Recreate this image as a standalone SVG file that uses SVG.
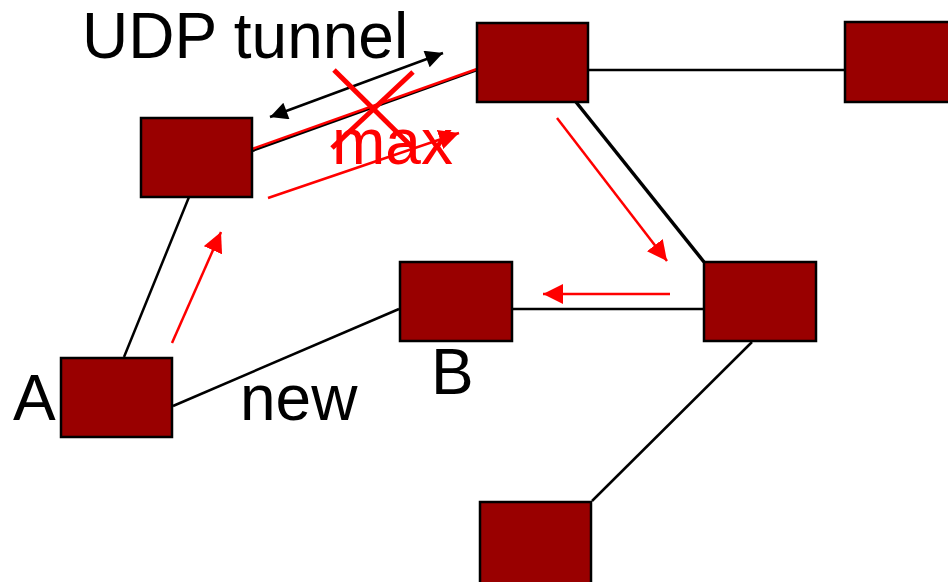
<svg xmlns="http://www.w3.org/2000/svg" width="948" height="582" viewBox="0 0 948 582">
  <style>
    .node { fill: #990000; stroke: #000; stroke-width: 2.5; }
    .link { stroke: #000; stroke-width: 2.5; fill: none; }
    .flow { stroke: #ff0000; stroke-width: 2.5; fill: none; }
    .lbl { font-family: "Liberation Sans", Arial, sans-serif; font-size: 64px; fill: #000; }
    .red { fill: #ff0000; }
  </style>
  <defs>
    <marker id="redHead" viewBox="0 0 10 10" refX="10" refY="5" markerWidth="8" markerHeight="8" markerUnits="strokeWidth" orient="auto">
      <path d="M0,0 L10,5 L0,10 z" fill="#ff0000"/>
    </marker>
    <marker id="blackHead" viewBox="0 0 10 10" refX="10" refY="5" markerWidth="8" markerHeight="7" markerUnits="strokeWidth" orient="auto-start-reverse">
      <path d="M0,0 L10,5 L0,10 z" fill="#000"/>
    </marker>
  </defs>

  <g id="connectors">
    <line class="link" x1="588" y1="70" x2="845" y2="70"/>
    <line class="link" x1="576" y1="102" x2="704" y2="262" style="stroke-width:3.5"/>
    <line class="link" x1="513" y1="309" x2="704" y2="309"/>
    <line class="link" x1="173" y1="406" x2="399" y2="309"/>
    <line class="link" x1="124" y1="357" x2="189" y2="197"/>
    <line class="link" x1="592" y1="501" x2="752" y2="342"/>
    <line class="link" x1="252" y1="151" x2="477" y2="70"/>
    <line class="flow" x1="252" y1="149" x2="477" y2="69"/>
  </g>

  <g id="node-top"><rect class="node" x="477" y="23" width="111" height="79"/></g>
  <g id="node-right"><rect class="node" x="845" y="22" width="110" height="80"/></g>
  <g id="node-left"><rect class="node" x="141" y="118" width="111" height="79"/></g>
  <g id="node-a"><rect class="node" x="61" y="358" width="111" height="79"/></g>
  <g id="node-b"><rect class="node" x="400" y="262" width="112" height="79"/></g>
  <g id="node-mid"><rect class="node" x="704" y="262" width="112" height="79"/></g>
  <g id="node-bottom"><rect class="node" x="480" y="502" width="111" height="82"/></g>

  <g id="flows">
    <line stroke="#000" stroke-width="2.5" x1="270" y1="117" x2="443" y2="53" marker-start="url(#blackHead)" marker-end="url(#blackHead)"/>
    <line class="flow" x1="172" y1="343" x2="221" y2="232" marker-end="url(#redHead)"/>
    <line class="flow" x1="268" y1="198" x2="459" y2="133" marker-end="url(#redHead)"/>
    <line class="flow" x1="557" y1="118" x2="667" y2="261" marker-end="url(#redHead)"/>
    <line class="flow" x1="670" y1="294" x2="543" y2="294" marker-end="url(#redHead)"/>
    <line stroke="#ff0000" stroke-width="5" x1="334" y1="70" x2="412" y2="147"/>
    <line stroke="#ff0000" stroke-width="5" x1="413" y1="72" x2="332" y2="148"/>
  </g>

  <g id="labels">
    <text class="lbl" x="82" y="58">UDP tunnel</text>
    <text class="lbl red" x="332" y="164">max</text>
    <text class="lbl" x="13" y="420">A</text>
    <text class="lbl" x="240" y="420">new</text>
    <text class="lbl" x="431" y="394">B</text>
  </g>
</svg>
